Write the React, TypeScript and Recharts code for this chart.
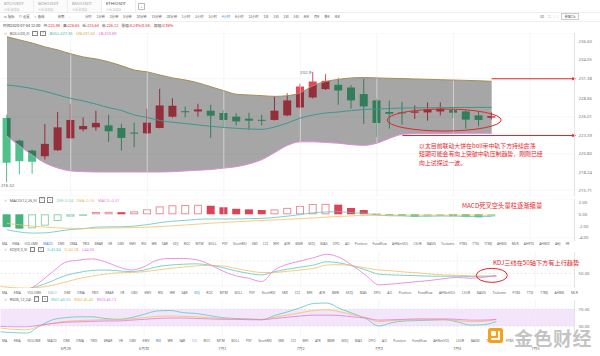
import React from "react";
import {
  ComposedChart,
  Bar,
  Line,
  Area,
  XAxis,
  YAxis,
  CartesianGrid,
  ReferenceLine,
  ReferenceDot,
  ReferenceArea,
} from "recharts";

const FONT = '"Noto Sans", "Noto Sans CJK SC", sans-serif';
const CJK = '"Noto Sans CJK SC", "Noto Sans", sans-serif';

// 4h candles, ETH/USDT
const TIMES = [
  "06-28 04:00", "06-28 08:00", "06-28 12:00", "06-28 16:00", "06-28 20:00",
  "06-29 00:00", "06-29 04:00", "06-29 08:00", "06-29 12:00", "06-29 16:00", "06-29 20:00",
  "06-30 00:00", "06-30 04:00", "06-30 08:00", "06-30 12:00", "06-30 16:00", "06-30 20:00",
  "07-01 00:00", "07-01 04:00", "07-01 08:00", "07-01 12:00", "07-01 16:00", "07-01 20:00",
  "07-02 00:00", "07-02 04:00", "07-02 08:00", "07-02 12:00", "07-02 16:00", "07-02 20:00",
  "07-03 00:00", "07-03 04:00", "07-03 08:00", "07-03 12:00", "07-03 16:00", "07-03 20:00",
  "07-04 00:00", "07-04 04:00", "07-04 08:00", "07-04 12:00", "07-04 16:00", "07-04 20:00",
  "07-05 00:00", "07-05 04:00", "07-05 08:00", "07-05 12:00",
];
const DAY_TICKS = ["06-29 00:00", "06-30 00:00", "07-01 00:00", "07-02 00:00", "07-03 00:00", "07-04 00:00", "07-05 00:00"];
const DAY_LABELS = ["6月29", "6月30", "7月1", "7月2", "7月3", "7月4", "7月5"];

const OPEN = [225.86, 222.67, 221.27, 220.47, 221.31, 223.0, 224.26, 224.54, 224.82, 224.45, 223.8, 223.7, 224.45, 226.04, 226.81, 226.78, 226.88, 226.56, 226.04, 225.76, 225.6, 225.58, 226.22, 227.34, 228.75, 229.92, 230.53, 230.15, 229.22, 228.33, 226.7, 226.64, 226.6, 226.64, 226.78, 226.98, 226.78, 226.22, 225.89];
const HIGH = [226.3, 222.8, 221.4, 225.02, 226.7, 227.86, 225.94, 226.88, 226.32, 225.05, 225.2, 227.16, 229.97, 228.66, 227.48, 227.86, 227.72, 227.0, 226.5, 226.6, 226.32, 228.89, 229.36, 230.7, 232.31, 232.03, 231.55, 230.5, 231.37, 228.56, 228.28, 228.1, 227.62, 228.05, 228.05, 227.48, 227.0, 226.78, 226.65];
const LOW = [216.8, 217.9, 218.0, 220.0, 221.2, 222.9, 223.98, 224.08, 222.49, 221.27, 221.73, 223.6, 224.4, 225.9, 225.94, 226.04, 223.05, 224.45, 224.82, 224.22, 224.82, 225.5, 226.1, 227.2, 228.6, 229.8, 227.72, 227.16, 225.02, 223.14, 224.36, 224.92, 225.72, 225.48, 226.22, 225.86, 224.36, 224.68, 225.64];
const CLOSE = [219.55, 219.77, 219.69, 222.21, 224.54, 225.58, 224.73, 225.16, 223.98, 223.05, 223.72, 225.2, 227.62, 227.58, 226.77, 227.06, 226.18, 225.58, 225.38, 225.48, 225.56, 226.88, 228.33, 230.29, 230.99, 231.09, 229.73, 228.33, 227.48, 225.16, 226.46, 226.5, 226.78, 227.06, 227.16, 226.6, 225.62, 225.58, 226.12];

const BOLL_UB = [237.3, 236.85, 236.4, 235.86, 235.44, 234.9, 234.45, 234.17, 233.75, 233.2, 232.6, 232.35, 231.9, 231.5, 231.2, 230.8, 230.25, 229.7, 229.2, 229.1, 229.0, 228.9, 229.0, 229.4, 230.4, 231.0, 231.3, 231.5, 231.55, 231.5, 231.45, 231.4, 231.35, 231.3, 231.25, 231.2, 231.15, 231.1, 231.02];
const BOLL_MID = [230.5, 230.3, 230.0, 229.6, 229.1, 228.6, 228.25, 227.8, 227.3, 226.9, 226.28, 225.92, 225.5, 225.25, 225.08, 224.87, 224.68, 224.52, 224.4, 224.3, 224.26, 224.6, 225.15, 225.85, 226.28, 226.56, 226.7, 226.9, 227.05, 227.12, 227.2, 227.26, 227.28, 227.3, 227.32, 227.33, 227.34, 227.35, 227.35];
const BOLL_LB = [223.3, 221.9, 220.6, 219.5, 218.8, 218.4, 218.3, 218.25, 218.25, 218.25, 218.25, 218.25, 218.25, 218.3, 218.4, 218.5, 218.6, 218.8, 219.0, 219.4, 220.0, 221.0, 222.0, 222.5, 222.5, 222.4, 222.3, 222.1, 222.0, 222.3, 223.0, 223.55, 223.65, 223.65, 223.65, 223.68, 223.7, 223.7, 223.69];

const DIF = [-2.65, -3.03, -3.22, -3.18, -2.9, -2.6, -2.47, -2.19, -2.14, -2.13, -2.01, -1.77, -1.42, -1.19, -1.02, -0.86, -0.79, -0.79, -0.8, -0.74, -0.7, -0.54, -0.31, -0.04, 0.26, 0.4, 0.46, 0.27, 0.17, -0.11, -0.25, -0.28, -0.35, -0.33, -0.3, -0.31, -0.35, -0.41, -0.34];
const DEA = [-1.55, -1.8, -2.02, -2.2, -2.33, -2.4, -2.42, -2.39, -2.35, -2.31, -2.26, -2.19, -2.09, -1.96, -1.82, -1.67, -1.52, -1.39, -1.27, -1.16, -1.06, -0.96, -0.86, -0.75, -0.62, -0.49, -0.37, -0.27, -0.2, -0.16, -0.15, -0.15, -0.15, -0.15, -0.15, -0.15, -0.15, -0.16, -0.16];
const MACD_HIST = [-2.2, -2.45, -2.4, -1.95, -1.15, -0.4, -0.1, 0.4, 0.42, 0.36, 0.5, 0.85, 1.35, 1.55, 1.6, 1.62, 1.46, 1.2, 0.94, 0.84, 0.73, 0.84, 1.1, 1.42, 1.76, 1.78, 1.65, 1.08, 0.73, 0.1, -0.2, -0.25, -0.4, -0.35, -0.3, -0.32, -0.4, -0.5, -0.37];

const KDJ_K = [12, 10, 12, 20, 32, 45, 52, 57, 58, 56, 54, 58, 66, 70, 72, 73, 70, 64, 56, 50, 46, 54, 60, 65, 70, 78, 75, 68, 58, 48, 46, 45, 44, 43, 43, 43, 42, 43, 43.84];
const KDJ_D = [18, 15, 14, 16, 21, 29, 37, 43, 48, 51, 52, 54, 58, 62, 65, 68, 69, 68, 62, 56, 52, 52, 55, 58, 62, 70, 71, 68, 63, 58, 56, 53, 51, 48, 46, 45, 44, 43, 42.28];
const KDJ_J = [0, 0, 8, 28, 54, 77, 82, 85, 78, 66, 58, 66, 82, 86, 86, 83, 72, 56, 44, 38, 30, 58, 72, 80, 88, 96, 88, 68, 45, 22, 24, 27, 30, 33, 37, 40, 38, 40, 44.56];

const RSI_1 = [16, 14, 13, 30, 45, 50, 52, 52, 48, 46, 50, 58, 66, 67, 62, 60, 55, 50, 48, 47, 45, 55, 64, 74, 84, 85, 72, 60, 48, 30, 38, 42, 43, 44, 45, 40, 32, 33, 40.55];
const RSI_2 = [25, 22, 21, 30, 37, 41, 43, 44, 45, 45, 47, 50, 53, 54, 53, 52, 50, 48, 47, 46, 46, 51, 56, 62, 67, 69, 64, 57, 50, 40, 43, 44, 45, 45, 45, 43, 40, 41, 45.4];
const RSI_3 = [29, 28, 28, 32, 36, 39, 40, 41, 42, 42, 44, 46, 48, 49, 49, 48, 47, 46, 46, 45, 45, 48, 51, 54, 56, 56, 55, 52, 49, 44, 45, 46, 47, 47, 47, 46, 44, 44, 46.13];

const PRICE_TICKS = [236.6, 234.05, 231.38, 228.66, 226.01, 223.39, 220.8, 218.24, 215.71];
const MACD_TICKS = [2, 0, -2, -4];
const KDJ_TICKS = [100, 50];
const RSI_TICKS = [70, 50, 30];
const RESISTANCE = 231.38;
const SUPPORT = 223.39;

const PAIRS = ["BTC/USDT", "BCH/USDT", "BSV/USDT", "ETH/USDT"];
const PERIODS = ["分时", "1分钟", "3分钟", "5分钟", "10分钟", "15分钟", "30分钟", "1小时", "2小时", "3小时", "4小时", "6小时", "12小时", "1日", "2日", "3日", "5日", "周K", "月K", "季K", "年K"];
const INDICATORS = ["MA", "EMA", "VOLUME", "MACD", "DMI", "DMA", "TRIX", "BRAR", "VR", "OBV", "EMV", "RSI", "WR", "SAR", "KDJ", "ROC", "MTM", "BOLL", "PSY", "StochRSI", "SMI", "CCI", "MFI", "ATR", "BBW", "SKDJ", "BIAS", "DPO", "AO", "Position", "Fundflow", "AHNetVOL", "LSUR", "BASIS", "Tvolume", "FTBS", "TTSI", "TTMJ", "AHBSI", "MLR", "AHPDI", "AHNDI", "AHJ", "FR"];

const rows = TIMES.map((t, i) => ({
  t,
  o: OPEN[i], h: HIGH[i], l: LOW[i], c: CLOSE[i],
  ub: BOLL_UB[i], mid: BOLL_MID[i], lb: BOLL_LB[i],
  dif: DIF[i], dea: DEA[i], hist: MACD_HIST[i], prevHist: i > 0 ? MACD_HIST[i - 1] : undefined,
  k: KDJ_K[i], d: KDJ_D[i], j: KDJ_J[i],
  rsi1: RSI_1[i], rsi2: RSI_2[i], rsi3: RSI_3[i],
}));

const RED = "#e3262b";
const UP = "#e4475b";
const DOWN = "#4fc18b";
const TEAL = "#5ec7bf";
const ORANGE = "#f2c063";
const PINK = "#e27ad9";
const M = { top: 0, right: 0, bottom: 0, left: 0.6 };
const AXIS_W = 25.4;
const tickStyle = { fontSize: 4.3, fill: "#777", fontFamily: FONT };

const Candle = (p: any) => {
  const { x, y, width, height, payload } = p;
  if (!payload || payload.o == null) return null;
  const top = Math.min(y, y + height);
  const hgt = Math.abs(height);
  const { o, c, h, l } = payload;
  const k = hgt / Math.max(h - l, 1e-6);
  const bodyTop = top + (h - Math.max(o, c)) * k;
  const bodyBot = top + (h - Math.min(o, c)) * k;
  const color = c >= o ? UP : DOWN;
  const cx = x + width / 2;
  return (
    <g>
      <line x1={cx} x2={cx} y1={top} y2={top + hgt} stroke={color} strokeWidth={1} />
      <rect x={x} y={bodyTop} width={width} height={Math.max(bodyBot - bodyTop, 1)} fill={color} />
    </g>
  );
};

// filled when the histogram drops, hollow when it rises
const MacdBar = (p: any) => {
  const { x, y, width, height, payload } = p;
  if (!payload || payload.hist == null) return null;
  const top = Math.min(y, y + height);
  const hgt = Math.max(Math.abs(height), 0.8);
  const pos = payload.hist >= 0;
  const filled = payload.prevHist == null || payload.hist < payload.prevHist;
  const color = pos ? (filled ? "#dc4356" : "#e7909b") : filled ? "#45b37e" : "#8dd3ae";
  return filled ? (
    <rect x={x} y={top} width={width} height={hgt} fill={color} />
  ) : (
    <rect x={x + 0.5} y={top + 0.5} width={width - 1} height={Math.max(hgt - 1, 0.5)} fill="#fff" stroke={color} strokeWidth={1} />
  );
};

const ellipse = (rx: number, ry: number, dx = 0) => (p: any) => (
  <ellipse cx={p.cx + dx} cy={p.cy} rx={rx} ry={ry} fill="none" stroke={RED} strokeWidth={1} />
);

const arrow = (p: any) => {
  const { x1, y1, x2 } = p;
  const tip = x2 + 8;
  return (
    <g>
      <line x1={x1} y1={y1} x2={tip - 2} y2={y1} stroke={RED} strokeWidth={1} />
      <polygon points={`${tip},${y1} ${tip - 4},${y1 - 1.8} ${tip - 4},${y1 + 1.8}`} fill={RED} />
    </g>
  );
};

const dayLines = (stroke: string) =>
  DAY_TICKS.map((d) => <ReferenceLine key={d} x={d} stroke={stroke} strokeWidth={0.6} />);

const rightAxis = (domain: number[], ticks: number[]) => (
  <YAxis
    orientation="right"
    domain={domain}
    ticks={ticks}
    allowDataOverflow
    width={AXIS_W}
    tickLine={false}
    tickSize={0}
    tickMargin={4}
    axisLine={{ stroke: "#e3e3e3" }}
    tick={tickStyle}
    tickFormatter={(v: number) => v.toFixed(2)}
  />
);

function Box({ mark }: { mark: string }) {
  return (
    <span style={{ display: "inline-flex", alignItems: "center", justifyContent: "center", width: 3.6, height: 3.6, border: "0.6px solid #888", fontSize: 3, lineHeight: 1, color: "#666" }}>
      {mark}
    </span>
  );
}

function PanelLegend({ top, title, items }: { top: number; title: string; items: [string, string][] }) {
  return (
    <div style={{ position: "absolute", left: 4, top, height: 6, display: "flex", alignItems: "center", gap: 2.6, fontSize: 3.9, color: "#555", whiteSpace: "nowrap" }}>
      <span style={{ fontSize: 3.2, color: "#888" }}>∨</span>
      <span>{title}</span>
      <Box mark="□" />
      <Box mark="×" />
      {items.map(([label, color]) => (
        <span key={label} style={{ color, marginLeft: 1.2 }}>{label}</span>
      ))}
    </div>
  );
}

function TabRow({ top, width, items, active, soft }: { top: number; width: number; items: string[]; active: string; soft: string[] }) {
  return (
    <div style={{ position: "absolute", left: 2, top, width, height: 6, display: "flex", justifyContent: "space-between", alignItems: "center", fontSize: 3.3, whiteSpace: "nowrap" }}>
      {items.map((n) => (
        <span key={n} style={{ color: n === active ? "#2f7de1" : soft.includes(n) ? "#9fc1ec" : "#666" }}>{n}</span>
      ))}
    </div>
  );
}

export default function App() {
  return (
    <div style={{ position: "relative", width: 600, height: 356, background: "#fff", overflow: "hidden", fontFamily: FONT }}>
      <style>{"body{margin:0}"}</style>

      {/* pair tabs */}
      {PAIRS.map((p, i) => (
        <div key={p} style={{ position: "absolute", left: i * 34, top: 0, width: 33, height: 12, borderRight: "1px solid #eee", background: i === 3 ? "#fff" : "#fbfbfb" }}>
          <div style={{ position: "absolute", left: 4, top: 1.2, fontSize: 4.2, color: i === 3 ? "#444" : "#999" }}>{p}</div>
          <div style={{ position: "absolute", left: 4, top: 6.6, fontSize: 3.1, color: "#bbb", fontFamily: CJK }}>火币全球站</div>
        </div>
      ))}
      <div style={{ position: "absolute", left: 138, top: 3, width: 5, height: 5, border: "0.6px solid #bbb", fontSize: 4, lineHeight: "5px", textAlign: "center", color: "#999" }}>+</div>
      <div style={{ position: "absolute", left: 0, top: 12, width: 600, height: 0, borderTop: "1px solid #eee" }} />

      {/* toolbar */}
      <div style={{ position: "absolute", left: 4, top: 13.6, height: 5, display: "flex", alignItems: "center", gap: 4.5, fontSize: 3.3, color: "#555", fontFamily: CJK, whiteSpace: "nowrap" }}>
        <span>⊡ 指标</span>
        <span>⊙ 设置</span>
        <span>✎ 画线</span>
        <span style={{ marginLeft: 9 }}>周期</span>
        <span>-</span>
      </div>
      <div style={{ position: "absolute", left: 85, top: 13.6, width: 255, height: 5, display: "flex", justifyContent: "space-between", alignItems: "center", fontSize: 3.3, color: "#555", fontFamily: CJK, whiteSpace: "nowrap" }}>
        {PERIODS.map((p) => (
          <span key={p} style={{ color: p === "4小时" ? "#2f7de1" : "#555" }}>{p}</span>
        ))}
      </div>
      <div style={{ position: "absolute", left: 540, top: 13.6, height: 5, display: "flex", alignItems: "center", gap: 4, fontSize: 3.3, color: "#666", fontFamily: CJK }}>
        <span>3D</span>
        <span>⛶</span>
        <span>▢</span>
        <span style={{ border: "0.6px solid #ccc", padding: "0 2px" }}>单窗口▾</span>
      </div>
      <div style={{ position: "absolute", left: 0, top: 21, width: 600, height: 0, borderTop: "1px solid #f0f0f0" }} />

      {/* info row */}
      <div style={{ position: "absolute", left: 3, top: 22.6, height: 5, display: "flex", alignItems: "center", gap: 3, fontSize: 3.8, color: "#444", fontFamily: CJK, whiteSpace: "nowrap" }}>
        <span>时间2020-07-04 12:00</span>
        <span>开:<span style={{ color: RED }}>225.89</span></span>
        <span>高:<span style={{ color: RED }}>226.65</span></span>
        <span>低:<span style={{ color: RED }}>225.64</span></span>
        <span>收:<span style={{ color: RED }}>226.12</span></span>
        <span>涨幅:<span style={{ color: RED }}>0.24%(0.54)</span></span>
        <span>振幅:<span style={{ color: RED }}>0.36%</span></span>
      </div>

      {/* price + BOLL */}
      <div style={{ position: "absolute", left: 0, top: 33 }}>
        <ComposedChart width={600} height={163} data={rows} margin={M}>
          <CartesianGrid vertical={false} stroke="#f0f0f0" strokeWidth={0.6} />
          {dayLines("#efefef")}
          <XAxis dataKey="t" hide />
          {rightAxis([214.87, 237.825], PRICE_TICKS)}
          <Bar dataKey={(d: any) => (d.o == null ? null : [d.l, d.h])} barSize={8} shape={(p: any) => <Candle {...p} />} isAnimationActive={false} />
          <Area dataKey={(d: any) => (d.ub == null ? null : [d.lb, d.ub])} type="monotone" fill="#000" fillOpacity={0.35} stroke="none" zIndex={350} isAnimationActive={false} />
          <Line dataKey="ub" type="monotone" stroke="#a68d57" strokeWidth={1} dot={false} isAnimationActive={false} />
          <Line dataKey="lb" type="monotone" stroke="#e38ad6" strokeWidth={1} dot={false} isAnimationActive={false} />
          <Line dataKey="mid" type="monotone" stroke="#3f978c" strokeWidth={1} dot={false} isAnimationActive={false} />
          <ReferenceLine segment={[{ x: TIMES[38], y: RESISTANCE }, { x: TIMES[44], y: RESISTANCE }]} shape={arrow} />
          <ReferenceLine segment={[{ x: TIMES[31], y: SUPPORT }, { x: TIMES[44], y: SUPPORT }]} shape={arrow} />
          <ReferenceDot x={TIMES[34]} y={225.57} shape={ellipse(57, 11, 3.5)} />
          <ReferenceDot x={TIMES[0]} y={LOW[0]} shape={(p: any) => <text x={p.cx - 6} y={p.cy + 5} fontSize={4.2} fill="#666">216.32</text>} />
          <ReferenceDot x={TIMES[24]} y={HIGH[24]} shape={(p: any) => (
            <g>
              <text x={p.cx - 13} y={p.cy + 1.5} fontSize={4.2} fill="#666">232.3</text>
              <line x1={p.cx - 3.5} x2={p.cx - 0.5} y1={p.cy} y2={p.cy} stroke="#888" strokeWidth={0.6} />
            </g>
          )} />
        </ComposedChart>
      </div>
      <PanelLegend top={30.3} title="BOLL(20,2)" items={[["BOLL:227.35", "#3cb3a3"], ["UB:231.02", "#e3a02f"], ["LB:223.69", "#e05fcf"]]} />
      <div style={{ position: "absolute", left: 419, top: 141.5, fontSize: 5.9, lineHeight: "8.6px", color: RED, fontFamily: CJK, whiteSpace: "nowrap" }}>
        <div>以太目前联动大饼在boll带中轨下方持续震荡</div>
        <div>短期可能会有向上突破中轨压制趋势，刚刚已经</div>
        <div>向上试探过一波。</div>
      </div>

      {/* MACD */}
      <PanelLegend top={197} title="MACD(12,26,9)" items={[["DIF:-0.34", TEAL], ["DEA:-0.16", "#e7b547"], ["MACD:-0.37", PINK]]} />
      <div style={{ position: "absolute", left: 0, top: 199 }}>
        <ComposedChart width={600} height={42} data={rows} margin={M}>
          <CartesianGrid vertical={false} stroke="#f2f2f2" strokeWidth={0.6} />
          {dayLines("#f0f0f0")}
          <XAxis dataKey="t" hide />
          {rightAxis([-4.564, 2.615], MACD_TICKS)}
          <Bar dataKey="hist" barSize={8} shape={(p: any) => <MacdBar {...p} />} isAnimationActive={false} />
          <Line dataKey="dif" type="monotone" stroke={TEAL} strokeWidth={0.8} dot={false} isAnimationActive={false} />
          <Line dataKey="dea" type="monotone" stroke={ORANGE} strokeWidth={0.8} dot={false} isAnimationActive={false} />
        </ComposedChart>
      </div>
      <div style={{ position: "absolute", left: 462, top: 201, fontSize: 6.3, color: RED, fontFamily: CJK, whiteSpace: "nowrap" }}>MACD死叉空头量柱逐渐缩量</div>

      <TabRow top={240} width={568} items={INDICATORS} active="MACD" soft={[]} />

      {/* KDJ */}
      <PanelLegend top={246.3} title="KDJ(9,3,3)" items={[["K:43.84", TEAL], ["D:42.28", "#e7b547"], ["J:44.56", PINK]]} />
      <div style={{ position: "absolute", left: 0, top: 252 }}>
        <ComposedChart width={600} height={36} data={rows} margin={M}>
          {dayLines("#f0f0f0")}
          <XAxis dataKey="t" hide />
          {rightAxis([14.3, 101.7], KDJ_TICKS)}
          <ReferenceLine y={50} stroke="#d6d6d6" strokeDasharray="2 2" strokeWidth={0.6} />
          <ReferenceLine y={80} stroke="#e2e2e2" strokeDasharray="2 2" strokeWidth={0.6} />
          <ReferenceLine y={20} stroke="#e2e2e2" strokeDasharray="2 2" strokeWidth={0.6} />
          <Line dataKey="k" type="monotone" stroke={TEAL} strokeWidth={0.8} dot={false} isAnimationActive={false} />
          <Line dataKey="d" type="monotone" stroke={ORANGE} strokeWidth={0.8} dot={false} isAnimationActive={false} />
          <Line dataKey="j" type="monotone" stroke={PINK} strokeWidth={0.8} dot={false} isAnimationActive={false} />
          <ReferenceDot x={TIMES[38]} y={45} shape={ellipse(15.5, 7, -4.5)} />
        </ComposedChart>
      </div>
      <div style={{ position: "absolute", left: 493, top: 258, fontSize: 6.2, color: RED, fontFamily: CJK, whiteSpace: "nowrap" }}>KDJ三线在50轴下方有上行趋势</div>

      <TabRow top={289} width={576} items={INDICATORS.slice(0, 40)} active="KDJ" soft={["MACD"]} />

      {/* RSI */}
      <PanelLegend top={296} title="RSI(6,12,24)" items={[["RSI1:40.55", TEAL], ["RSI2:45.40", "#e7b547"], ["RSI3:46.13", PINK]]} />
      <div style={{ position: "absolute", left: 0, top: 300 }}>
        <ComposedChart width={600} height={37} data={rows} margin={M}>
          <ReferenceArea y1={30} y2={70} fill="#f3e6fb" fillOpacity={1} stroke="none" />
          {dayLines("#f0f0f0")}
          <XAxis dataKey="t" hide />
          {rightAxis([3.6, 92.3], RSI_TICKS)}
          <ReferenceLine y={70} stroke="#d9cde0" strokeDasharray="2 2" strokeWidth={0.6} />
          <ReferenceLine y={30} stroke="#d9cde0" strokeDasharray="2 2" strokeWidth={0.6} />
          <Line dataKey="rsi1" type="monotone" stroke={TEAL} strokeWidth={0.8} dot={false} isAnimationActive={false} />
          <Line dataKey="rsi2" type="monotone" stroke={ORANGE} strokeWidth={0.8} dot={false} isAnimationActive={false} />
          <Line dataKey="rsi3" type="monotone" stroke={PINK} strokeWidth={0.8} dot={false} isAnimationActive={false} />
        </ComposedChart>
      </div>

      <TabRow top={337.6} width={512} items={INDICATORS.slice(0, 36)} active="RSI" soft={["KDJ"]} />

      {/* date axis */}
      <div style={{ position: "absolute", left: 0, top: 340 }}>
        <ComposedChart width={600} height={16} data={rows} margin={{ ...M, right: AXIS_W }}>
          <XAxis
            dataKey="t"
            ticks={DAY_TICKS}
            interval={0}
            height={10}
            axisLine={false}
            tickLine={false}
            tickSize={0}
            tickMargin={1}
            tick={{ fontSize: 3.8, fill: "#666", fontFamily: CJK }}
            tickFormatter={(v: string) => DAY_LABELS[DAY_TICKS.indexOf(v)]}
          />
        </ComposedChart>
      </div>

      {/* watermark */}
      <div style={{ position: "absolute", left: 488, top: 328, width: 15, height: 15, borderRadius: 2.5, background: "#f4a21d" }}>
        <div style={{ position: "absolute", left: 3, top: 3, width: 5, height: 5, background: "#fff", borderRadius: 1 }} />
        <div style={{ position: "absolute", left: 9.5, top: 3, width: 2.5, height: 9, background: "#fff", borderRadius: 1 }} />
        <div style={{ position: "absolute", left: 3, top: 9.5, width: 9, height: 2.5, background: "#fff", borderRadius: 1 }} />
      </div>
      <div style={{ position: "absolute", left: 514, top: 326.5, fontSize: 19, lineHeight: "21px", fontWeight: 700, color: "rgba(185,185,185,0.85)", fontFamily: CJK, letterSpacing: 0.5, whiteSpace: "nowrap" }}>金色财经</div>
    </div>
  );
}
